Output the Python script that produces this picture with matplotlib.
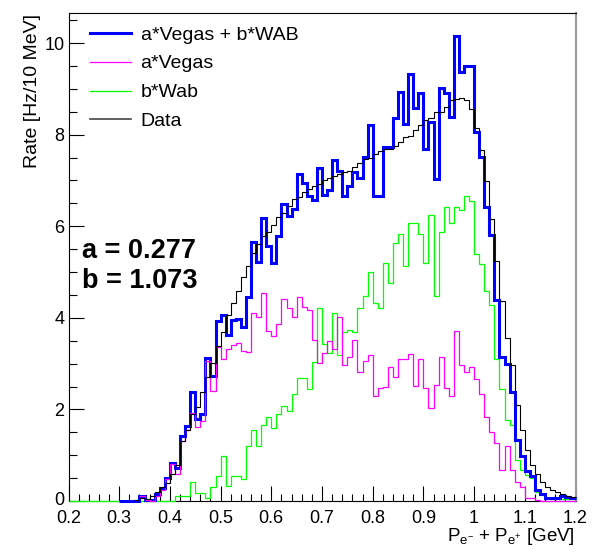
import numpy as np
import matplotlib
matplotlib.use('Agg')
import matplotlib.pyplot as plt
from matplotlib.lines import Line2D
from matplotlib.transforms import ScaledTranslation

plt.rcParams['font.family'] = ['Liberation Sans', 'DejaVu Sans']
plt.rcParams['mathtext.fontset'] = 'custom'
plt.rcParams['mathtext.rm'] = 'Liberation Sans'
plt.rcParams['mathtext.it'] = 'Liberation Sans'
plt.rcParams['mathtext.bf'] = 'Liberation Sans:bold'
plt.rcParams['mathtext.default'] = 'regular'

# binning: 100 bins of 10 MeV from 0.2 to 1.2 GeV
bin_edges = np.round(np.linspace(0.2, 1.2, 101), 3)

# a*Vegas + b*WAB (somma)
somma = [0, 0, 0, 0, 0, 0, 0, 0, 0, 0,
         0, 0, 0, 0, 0.11, 0.02, 0.02, 0.15, 0.28, 0.51,
         0.84, 0.72, 1.42, 1.63, 2.37, 1.80, 1.89, 3.13, 2.72, 3.92,
         4.07, 3.62, 3.96, 3.98, 3.80, 4.46, 5.66, 5.21, 6.18, 5.56,
         5.20, 5.79, 6.48, 6.22, 6.37, 7.14, 6.95, 6.65, 6.58, 7.27,
         6.69, 6.78, 7.45, 7.20, 6.66, 6.88, 7.19, 7.05, 7.52, 8.21,
         6.66, 6.67, 7.72, 7.72, 8.37, 8.92, 8.23, 9.33, 8.59, 8.91,
         7.69, 8.28, 7.03, 9.02, 8.91, 8.39, 10.16, 9.37, 9.50, 9.49,
         8.06, 7.52, 6.41, 5.81, 4.39, 3.14, 2.99, 2.39, 1.33, 0.99,
         0.66, 0.55, 0.24, 0.16, 0.07, 0.07, 0.07, 0.12, 0.09, 0.07]

# a*Vegas
vegas = [0, 0, 0, 0, 0, 0, 0, 0, 0, 0,
         0, 0, 0, 0, 0.10, 0.02, 0.0, 0.12, 0.25, 0.47,
         0.81, 0.60, 1.32, 1.55, 1.93, 1.61, 1.74, 3.05, 2.40, 3.37,
         3.09, 3.31, 3.40, 3.44, 3.28, 3.25, 4.10, 4.02, 4.55, 3.72,
         3.60, 3.86, 4.40, 4.22, 4.02, 4.45, 4.23, 4.17, 3.51, 3.02,
         3.23, 3.50, 3.32, 4.02, 2.97, 3.15, 3.51, 2.82, 3.06, 3.19,
         2.29, 2.47, 2.50, 2.92, 2.71, 3.09, 3.09, 3.22, 2.51, 3.09,
         2.46, 2.02, 2.54, 3.14, 2.46, 2.29, 3.71, 2.97, 2.82, 2.92,
         2.66, 2.34, 1.83, 1.51, 1.26, 0.68, 1.19, 0.68, 0.41, 0.31,
         0.07, 0.07, 0.02, 0.01, 0.01, 0.01, 0.01, 0.01, 0.01, 0.01]

# b*Wab
wab = [0, 0, 0, 0, 0, 0, 0, 0, 0, 0,
       0, 0, 0, 0, 0, 0, 0, 0, 0, 0,
       0, 0.10, 0.10, 0.10, 0.42, 0.18, 0.17, 0.07, 0.30, 0.54,
       0.98, 0.33, 0.54, 0.54, 0.49, 1.21, 1.55, 1.19, 1.65, 1.83,
       1.59, 1.89, 2.07, 1.96, 2.33, 2.69, 2.69, 2.45, 3.04, 4.21,
       3.42, 3.23, 4.10, 3.19, 3.68, 3.73, 3.68, 4.21, 4.47, 5.01,
       4.33, 4.21, 5.19, 4.77, 5.63, 5.82, 5.14, 6.06, 6.06, 5.82,
       5.19, 6.24, 4.48, 5.88, 6.43, 6.06, 6.43, 6.35, 6.67, 6.54,
       5.39, 5.17, 4.59, 4.29, 3.11, 2.45, 1.77, 1.66, 0.90, 0.68,
       0.57, 0.50, 0.20, 0.14, 0.07, 0.05, 0.05, 0.05, 0.05, 0.05]

# Data
dati = [0, 0, 0, 0, 0, 0, 0, 0, 0, 0,
        0, 0, 0, 0.02, 0.06, 0.05, 0.12, 0.20, 0.30, 0.40,
        0.58, 0.79, 1.30, 1.55, 1.91, 2.05, 2.39, 2.71, 3.02, 3.38,
        3.70, 4.06, 4.32, 4.59, 4.88, 5.13, 5.42, 5.62, 5.78, 5.88,
        6.03, 6.21, 6.28, 6.44, 6.59, 6.64, 6.75, 6.82, 6.88, 6.92,
        7.00, 7.06, 7.10, 7.15, 7.19, 7.21, 7.30, 7.38, 7.46, 7.50,
        7.57, 7.64, 7.68, 7.69, 7.75, 7.83, 7.94, 7.98, 8.10, 8.20,
        8.32, 8.36, 8.50, 8.50, 8.61, 8.76, 8.78, 8.81, 8.76, 8.55,
        8.15, 7.66, 6.99, 6.15, 5.25, 4.37, 3.55, 2.97, 2.10, 1.55,
        1.11, 0.79, 0.60, 0.42, 0.31, 0.24, 0.19, 0.16, 0.11, 0.09]

nomi = ['a*Vegas + b*WAB', 'a*Vegas', 'b*Wab', 'Data']
x_ticks = [0.2, 0.3, 0.4, 0.5, 0.6, 0.7, 0.8, 0.9, 1.0, 1.1, 1.2]
x_labels = ['0.2', '0.3', '0.4', '0.5', '0.6', '0.7', '0.8', '0.9', '1', '1.1', '1.2']
y_ticks = [0, 2, 4, 6, 8, 10]
a_fit = 0.277
b_fit = 1.073

fig = plt.figure(figsize=(6.02, 5.54), dpi=100)
ax = fig.add_axes([68.5 / 602, 1 - 501 / 554, 507 / 602, 488 / 554])

# first drawn bin for each histogram (ROOT-like: ranges differ)
ax.stairs(wab, bin_edges, baseline=None, color='#00ff00', lw=0.9, zorder=2.6, clip_on=False)
ax.stairs(somma[10:], bin_edges[10:], baseline=None, color='#0000ff', lw=2.2, zorder=3, clip_on=False)
ax.stairs(vegas[14:], bin_edges[14:], baseline=None, color='#ff00ff', lw=0.9, zorder=4, clip_on=False)
ax.stairs(dati[13:], bin_edges[13:], baseline=None, color='black', lw=0.8, zorder=5, clip_on=False)

ax.set_xlim(0.2, 1.2)
ax.set_ylim(0, 488 / 45.8)
ax.set_xticks(x_ticks)
ax.set_xticklabels(x_labels)
ax.set_yticks(y_ticks)
ax.set_xticks(np.arange(0.2, 1.2001, 0.02), minor=True)
ax.set_yticks(np.arange(0, 10.6, 0.5), minor=True)
ax.tick_params(which='both', direction='in', top=False, right=False, labelsize=13, width=0.8)
ax.tick_params(axis='x', which='major', length=10.8, pad=6.5)
ax.tick_params(axis='y', which='major', length=10.8, pad=3)
ax.tick_params(which='minor', length=5.4)
for s in ['left', 'bottom', 'top']:
    ax.spines[s].set_linewidth(0.8)
ax.spines['right'].set_color('#999999')
ax.spines['right'].set_linewidth(1.5)

# the "0" on y sits just above "0.2": lift it a little so they do not touch
lbl0 = ax.get_yticklabels()[0]
lbl0.set_transform(lbl0.get_transform() + ScaledTranslation(0, 2 / 72, fig.dpi_scale_trans))

fig.text(33 / 602, 1 - 14 / 554, 'Rate [Hz/10 MeV]', rotation=90, ha='center', va='top', fontsize=14)
fig.text(575 / 602, 1 - 541 / 554, r'P$_{e^{-}}$ + P$_{e^{+}}$ [GeV]', ha='right', va='baseline', fontsize=13.5)

ax.text(82 / 602, 1 - 258 / 554, 'a = %.3f' % a_fit, transform=fig.transFigure,
        fontsize=19.5, fontweight='bold', va='baseline')
ax.text(82 / 602, 1 - 288 / 554, 'b = %.3f' % b_fit, transform=fig.transFigure,
        fontsize=19.5, fontweight='bold', va='baseline')

handles = [Line2D([], [], color='#0000ff', lw=2.2),
           Line2D([], [], color='#ff00ff', lw=0.9),
           Line2D([], [], color='#00ff00', lw=0.9),
           Line2D([], [], color='#444444', lw=1.2)]
ax.legend(handles, nomi, loc='upper left', bbox_to_anchor=(90 / 602, 1 - 26 / 554),
          bbox_transform=fig.transFigure, frameon=False, fontsize=14,
          borderpad=0, borderaxespad=0, handlelength=2.1, handletextpad=0.5,
          labelspacing=0.58)

fig.savefig('out.png', dpi=100)
